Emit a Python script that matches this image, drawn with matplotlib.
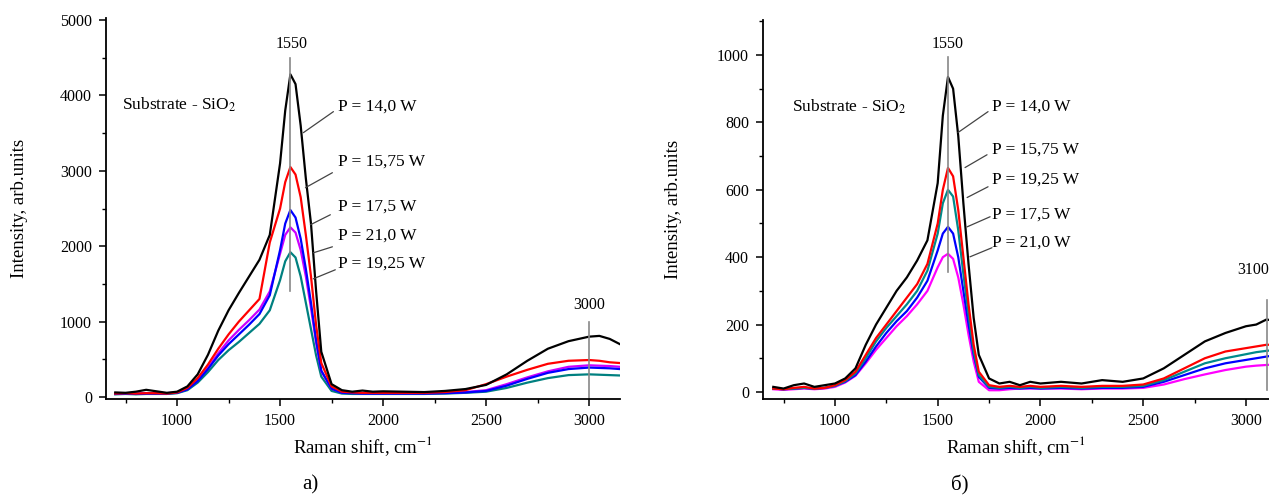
import matplotlib
matplotlib.use("Agg")
import matplotlib.pyplot as plt
from matplotlib.ticker import MultipleLocator

plt.rcParams['font.family'] = ['Liberation Serif', 'DejaVu Serif']
plt.rcParams['mathtext.fontset'] = 'stix'

#Raman shift grid (cm-1)
shift = [700, 750, 800, 850, 900, 950, 1000, 1050, 1100, 1150, 1200, 1250, 1300, 1350,
         1400, 1450, 1500, 1525, 1550, 1575, 1600, 1625, 1650, 1675, 1700, 1750, 1800,
         1850, 1900, 1950, 2000, 2100, 2200, 2300, 2400, 2500, 2600, 2700, 2800, 2900,
         3000, 3050, 3100, 3150]

#Panel a) intensities
a_14_0 = [60, 55, 70, 95, 75, 55, 70,
          140, 300, 560, 880, 1150, 1380, 1600, 1820, 2150, 3100,
          3800, 4280, 4150, 3600, 2900, 2300, 1400, 600, 170,
          90, 70, 85, 70, 75,
          70, 65, 80, 105, 160, 300, 480, 640, 740, 800,
          810, 770, 700]
a_15_75 = [45, 50, 45, 50, 50, 45, 60,
           120, 250, 430, 640, 830, 1000, 1150, 1300, 2050, 2500,
           2850, 3050, 2950, 2650, 2150, 1600, 950, 450, 140,
           70, 60, 55, 55, 55,
           55, 55, 65, 90, 170, 270, 360, 440, 480, 490,
           480, 460, 450]
a_17_5 = [40, 45, 40, 45, 45, 45, 55,
          100, 210, 370, 550, 700, 830, 960, 1100, 1350, 1950,
          2300, 2480, 2380, 2100, 1700, 1250, 750, 350, 110,
          55, 50, 45, 45, 45,
          45, 45, 50, 60, 80, 150, 240, 320, 370, 390,
          385, 380, 370]
a_21_0 = [45, 50, 45, 50, 50, 50, 60,
          105, 220, 390, 580, 750, 890, 1020, 1160, 1400, 1900,
          2150, 2250, 2180, 1950, 1600, 1180, 720, 340, 110,
          60, 55, 50, 50, 50,
          50, 50, 55, 65, 90, 170, 260, 340, 400, 420,
          415, 410, 400]
a_19_25 = [35, 40, 35, 40, 40, 40, 50,
           90, 190, 330, 490, 620, 730, 850, 970, 1150, 1550,
           1800, 1920, 1850, 1600, 1250, 900, 550, 270, 80,
           45, 40, 40, 40, 40,
           40, 40, 45, 55, 70, 120, 190, 250, 290, 300,
           295, 290, 285]

#Panel б) intensities
b_14_0 = [15, 10, 20, 25, 15, 20, 25,
          40, 70, 140, 200, 250, 300, 340, 390, 450, 620,
          820, 935, 900, 760, 560, 380, 220, 110, 40,
          25, 30, 20, 30, 25,
          30, 25, 35, 30, 40, 70, 110, 150, 175, 195,
          200, 215, 210]
b_15_75 = [10, 8, 12, 15, 10, 12, 20,
           35, 60, 110, 160, 200, 240, 280, 320, 380, 500,
           600, 665, 640, 540, 400, 260, 140, 60, 20,
           15, 18, 15, 18, 15,
           18, 15, 18, 18, 22, 40, 70, 100, 120, 130,
           135, 140, 140]
b_19_25 = [10, 8, 10, 12, 10, 12, 18,
           32, 55, 100, 150, 190, 225, 260, 300, 360, 470,
           560, 600, 580, 480, 350, 230, 120, 50, 15,
           12, 15, 12, 15, 12,
           15, 12, 15, 15, 18, 35, 60, 85, 100, 112,
           118, 122, 125]
b_17_5 = [10, 8, 10, 12, 10, 12, 18,
          30, 50, 90, 135, 175, 210, 240, 280, 330, 420,
          470, 490, 470, 400, 300, 200, 110, 45, 12,
          10, 12, 10, 12, 10,
          12, 10, 12, 12, 15, 30, 50, 70, 85, 95,
          100, 105, 110]
b_21_0 = [8, 6, 8, 10, 8, 10, 15,
          28, 48, 85, 125, 160, 195, 225, 260, 300, 370,
          400, 410, 395, 340, 260, 170, 90, 30, 5,
          5, 8, 10, 10, 10,
          10, 8, 10, 10, 12, 22, 38, 52, 65, 75,
          78, 80, 82]

fig = plt.figure(figsize=(12.69, 5), dpi=100)

def style_axes(ax, ymajor, yminor):
  for s in ["top", "right"]:
    ax.spines[s].set_visible(False)
  for s in ["left", "bottom"]:
    ax.spines[s].set_linewidth(1.3)
  ax.xaxis.set_major_locator(MultipleLocator(500))
  ax.xaxis.set_minor_locator(MultipleLocator(250))
  ax.yaxis.set_major_locator(MultipleLocator(ymajor))
  ax.yaxis.set_minor_locator(MultipleLocator(yminor))
  ax.tick_params(which="major", direction="out", length=5, width=1.1, labelsize=11.5, pad=5)
  ax.tick_params(which="minor", direction="out", length=3, width=1.0)
  ax.set_xlabel("Raman shift, cm$^{-1}$", fontsize=13.5, labelpad=4)

def leader(ax, p0, p1, ptext, label):
  ax.annotate("", xy=p0, xytext=p1,
              arrowprops=dict(arrowstyle="-", color="#444444", lw=0.9, shrinkA=0, shrinkB=0))
  ax.text(ptext[0], ptext[1], label, fontsize=12.5, ha="left", va="center")

#Panel a)
ax1 = fig.add_axes([106/1269, 1-399/500, (620-106)/1269, (399-18)/500])
ax1.plot(shift, a_19_25, color="#008080", lw=1.6)
ax1.plot(shift, a_21_0, color="#cc00ff", lw=1.6)
ax1.plot(shift, a_17_5, color="#0000ff", lw=1.6)
ax1.plot(shift, a_15_75, color="#ff0000", lw=1.6)
ax1.plot(shift, a_14_0, color="#000000", lw=1.6)
ax1.set_xlim(655, 3150)
ax1.set_ylim(-27, 5027)
style_axes(ax1, 1000, 500)
ax1.set_ylabel("Intensity, arb.units", fontsize=13.5, labelpad=23)
ax1.plot([1550, 1550], [4500, 1400], color="#888888", lw=1.2)
ax1.text(1555, 4680, "1550", fontsize=11.5, ha="center", va="center")
ax1.plot([3000, 3000], [1000, -27], color="#888888", lw=1.2)
ax1.text(3000, 1220, "3000", fontsize=11.5, ha="center", va="center")
ax1.text(733, 3880, "Substrate - SiO$_2$", fontsize=12.5, ha="left", va="center")
leader(ax1, (1613, 3506), (1759, 3785), (1783, 3850), "P = 14,0 W")
leader(ax1, (1623, 2776), (1754, 2975), (1783, 3121), "P = 15,75 W")
leader(ax1, (1647, 2284), (1744, 2417), (1783, 2523), "P = 17,5 W")
leader(ax1, (1661, 1912), (1754, 1992), (1783, 2138), "P = 21,0 W")
leader(ax1, (1661, 1567), (1768, 1687), (1783, 1766), "P = 19,25 W")

#Panel б)
ax2 = fig.add_axes([763/1269, 1-399/500, (1269-763)/1269, (399-20)/500])
ax2.plot(shift, b_21_0, color="#ff00ff", lw=1.6)
ax2.plot(shift, b_17_5, color="#0000ff", lw=1.6)
ax2.plot(shift, b_19_25, color="#008b8b", lw=1.6)
ax2.plot(shift, b_15_75, color="#ff0000", lw=1.6)
ax2.plot(shift, b_14_0, color="#000000", lw=1.6)
ax2.set_xlim(650, 3112)
ax2.set_ylim(-21, 1104)
style_axes(ax2, 200, 100)
ax2.set_ylabel("Intensity, arb.units", fontsize=13.5, labelpad=25)
ax2.plot([1550, 1550], [993, 357], color="#888888", lw=1.2)
ax2.text(1550, 1034, "1550", fontsize=11.5, ha="center", va="center")
ax2.plot([3100, 3100], [273, 5], color="#888888", lw=1.2)
ax2.text(3111, 362, "3100", fontsize=11.5, ha="right", va="center")
ax2.text(791, 847, "Substrate - SiO$_2$", fontsize=12.5, ha="left", va="center")
leader(ax2, (1599, 770), (1745, 832), (1764, 847), "P = 14,0 W")
leader(ax2, (1633, 666), (1740, 704), (1764, 719), "P = 15,75 W")
leader(ax2, (1643, 577), (1745, 609), (1764, 630), "P = 19,25 W")
leader(ax2, (1643, 490), (1755, 520), (1764, 526), "P = 17,5 W")
leader(ax2, (1657, 401), (1764, 428), (1764, 443), "P = 21,0 W")

fig.text(310/1269, 1-485/500, "а)", fontsize=15, ha="center", va="center")
fig.text(960/1269, 1-485/500, "б)", fontsize=15, ha="center", va="center")

fig.savefig("out.png", dpi=100)
